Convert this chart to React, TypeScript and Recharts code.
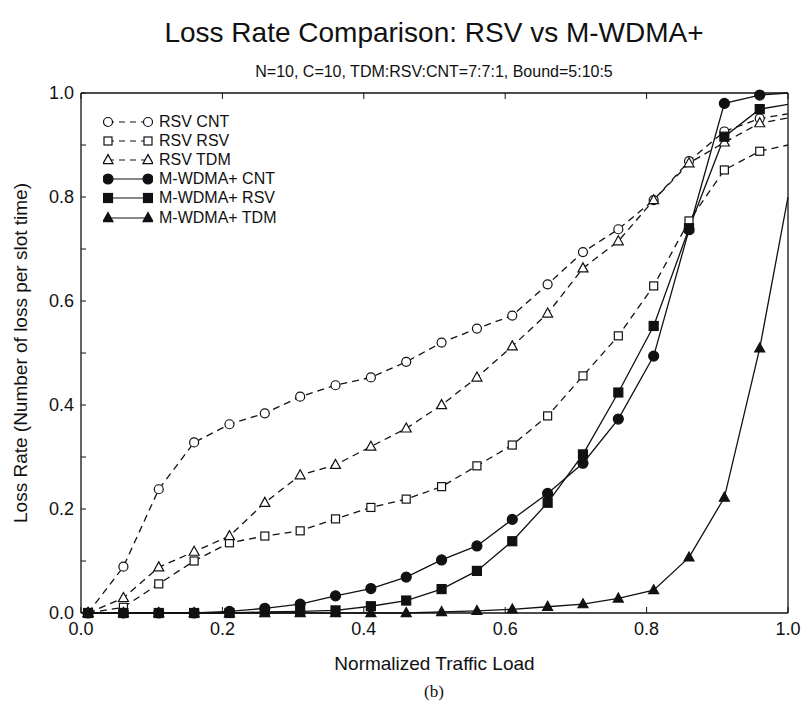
import React from "react";
import { LineChart, Line, XAxis, YAxis } from "recharts";

const loads = [0.01, 0.06, 0.11, 0.16, 0.21, 0.26, 0.31, 0.36, 0.41, 0.46, 0.51, 0.56, 0.61, 0.66, 0.71, 0.76, 0.81, 0.86, 0.91, 0.96, 1.0];

const rsvCnt = [0, 0.089, 0.238, 0.328, 0.363, 0.384, 0.416, 0.438, 0.453, 0.483, 0.52, 0.547, 0.572, 0.632, 0.694, 0.738, 0.794, 0.869, 0.926, 0.951, 0.96];
const rsvRsv = [0, 0.011, 0.056, 0.1, 0.135, 0.148, 0.158, 0.181, 0.203, 0.219, 0.243, 0.283, 0.323, 0.379, 0.456, 0.533, 0.629, 0.754, 0.852, 0.888, 0.9];
const rsvTdm = [0, 0.029, 0.088, 0.118, 0.148, 0.212, 0.265, 0.285, 0.32, 0.355, 0.4, 0.453, 0.513, 0.576, 0.663, 0.715, 0.794, 0.865, 0.905, 0.942, 0.952];
const wdmaCnt = [0, 0, 0, 0, 0.003, 0.009, 0.017, 0.033, 0.047, 0.069, 0.102, 0.129, 0.18, 0.23, 0.288, 0.373, 0.494, 0.737, 0.98, 0.996, 1.0];
const wdmaRsv = [0, 0, 0, 0, 0, 0.002, 0.003, 0.005, 0.013, 0.024, 0.046, 0.081, 0.138, 0.212, 0.305, 0.424, 0.552, 0.74, 0.916, 0.969, 0.978];
const wdmaTdm = [0, 0, 0, 0, 0, 0, 0, 0, 0, 0, 0.002, 0.004, 0.007, 0.012, 0.017, 0.028, 0.044, 0.107, 0.222, 0.509, 0.8];

const xTicks = [0, 0.2, 0.4, 0.6, 0.8, 1.0];
const yTicks = [0, 0.1, 0.2, 0.3, 0.4, 0.5, 0.6, 0.7, 0.8, 0.9, 1.0];

const series = [
  { key: "rsvCnt", name: "RSV CNT", values: rsvCnt, shape: "circle", filled: false, dashed: true },
  { key: "rsvRsv", name: "RSV RSV", values: rsvRsv, shape: "square", filled: false, dashed: true },
  { key: "rsvTdm", name: "RSV TDM", values: rsvTdm, shape: "triangle", filled: false, dashed: true },
  { key: "wdmaCnt", name: "M-WDMA+ CNT", values: wdmaCnt, shape: "circle", filled: true, dashed: false },
  { key: "wdmaRsv", name: "M-WDMA+ RSV", values: wdmaRsv, shape: "square", filled: true, dashed: false },
  { key: "wdmaTdm", name: "M-WDMA+ TDM", values: wdmaTdm, shape: "triangle", filled: true, dashed: false },
];

const data = loads.map((x, i) => {
  const row: Record<string, number> = { x };
  series.forEach((s) => (row[s.key] = s.values[i]));
  return row;
});

const FONT = "'Liberation Sans', Arial, Helvetica, sans-serif";
const INK = "#111";
const DASH = "7 5";

function Marker({ shape, filled, cx, cy }: { shape: string; filled: boolean; cx: number; cy: number }) {
  const fill = filled ? INK : "#fff";
  if (shape === "circle") {
    return <circle cx={cx} cy={cy} r={filled ? 5 : 4.5} fill={fill} stroke={INK} strokeWidth={1.2} />;
  }
  if (shape === "square") {
    const s = filled ? 9 : 8;
    return <rect x={cx - s / 2} y={cy - s / 2} width={s} height={s} fill={fill} stroke={INK} strokeWidth={1.2} />;
  }
  const h = 9;
  const w = 10;
  return (
    <polygon
      points={`${cx},${cy - h * 0.6} ${cx - w / 2},${cy + h * 0.4} ${cx + w / 2},${cy + h * 0.4}`}
      fill={fill}
      stroke={INK}
      strokeWidth={1.2}
    />
  );
}

function makeDot(shape: string, filled: boolean) {
  return (p: any) => {
    if (p.payload.x >= 1 || p.cx == null || p.cy == null) return <g key={p.index} />;
    return (
      <g key={p.index}>
        <Marker shape={shape} filled={filled} cx={p.cx} cy={p.cy} />
      </g>
    );
  };
}

// legend sits inside the plot, top left
function LegendBox() {
  return (
    <div style={{ position: "absolute", top: 112, left: 103, fontFamily: FONT, fontSize: 16, color: INK }}>
      {series.map((s) => (
        <div key={s.key} style={{ display: "flex", alignItems: "center", height: 19.2 }}>
          <svg width={50} height={14} style={{ marginRight: 6 }}>
            <line x1={5} y1={7} x2={45} y2={7} stroke={INK} strokeWidth={1.2} strokeDasharray={s.dashed ? "6 5" : undefined} />
            <Marker shape={s.shape} filled={s.filled} cx={5} cy={7} />
            <Marker shape={s.shape} filled={s.filled} cx={45} cy={7} />
          </svg>
          <span>{s.name}</span>
        </div>
      ))}
    </div>
  );
}

const tickStyle = { fontFamily: FONT, fontSize: 18, fill: INK };

export default function App() {
  return (
    <div style={{ position: "absolute", left: 0, top: 0, width: 802, height: 704, background: "#fff" }}>
      <div style={{ position: "absolute", top: 17, left: 0, width: 868, textAlign: "center", fontFamily: FONT, fontSize: 28, color: INK }}>
        Loss Rate Comparison: RSV vs M-WDMA+
      </div>
      <div style={{ position: "absolute", top: 63, left: 0, width: 868, textAlign: "center", fontFamily: FONT, fontSize: 16, color: INK }}>
        N=10, C=10, TDM:RSV:CNT=7:7:1, Bound=5:10:5
      </div>
      <div style={{ position: "absolute", top: 682, left: 0, width: 868, textAlign: "center", fontFamily: "'Liberation Serif', 'Times New Roman', serif", fontSize: 17, color: INK }}>
        (b)
      </div>
      <LineChart width={802} height={704} data={data} margin={{ top: 83, right: 0, bottom: 0, left: 0 }} style={{ position: "absolute", left: 0, top: 0 }}>
        <XAxis
          dataKey="x"
          type="number"
          domain={[0, 1]}
          ticks={xTicks}
          tickFormatter={(v: number) => v.toFixed(1)}
          height={91}
          tickSize={-6}
          tickMargin={15}
          tick={tickStyle}
          axisLine={{ stroke: INK, strokeWidth: 1.3 }}
          tickLine={{ stroke: INK }}
          label={{ value: "Normalized Traffic Load", position: "insideTop", offset: 44, style: { fontFamily: FONT, fontSize: 19, fill: INK } }}
        />
        <XAxis
          xAxisId="top"
          dataKey="x"
          type="number"
          orientation="top"
          domain={[0, 1]}
          ticks={xTicks}
          tickFormatter={() => ""}
          height={10}
          tickSize={-6}
          axisLine={{ stroke: INK, strokeWidth: 1.3 }}
          tickLine={{ stroke: INK }}
        />
        <YAxis
          type="number"
          domain={[0, 1]}
          ticks={yTicks}
          interval={0}
          tickFormatter={(v: number) => (Math.round(v * 10) % 2 === 0 ? v.toFixed(1) : "")}
          width={81}
          tickSize={-5}
          tickMargin={12}
          tick={tickStyle}
          axisLine={{ stroke: INK, strokeWidth: 1.3 }}
          tickLine={{ stroke: INK }}
          label={{
            value: "Loss Rate (Number of loss per slot time)",
            angle: -90,
            position: "insideLeft",
            offset: 20,
            style: { fontFamily: FONT, fontSize: 19, fill: INK, textAnchor: "middle" },
          }}
        />
        <YAxis
          yAxisId="right"
          type="number"
          orientation="right"
          domain={[0, 1]}
          ticks={yTicks}
          interval={0}
          tickFormatter={() => ""}
          width={14}
          tickSize={-5}
          axisLine={{ stroke: INK, strokeWidth: 1.3 }}
          tickLine={{ stroke: INK }}
        />
        {series.map((s) => (
          <Line
            key={s.key}
            dataKey={s.key}
            name={s.name}
            type="linear"
            stroke={INK}
            strokeWidth={1.3}
            strokeDasharray={s.dashed ? DASH : undefined}
            dot={makeDot(s.shape, s.filled)}
            activeDot={false}
            isAnimationActive={false}
          />
        ))}
      </LineChart>
      <LegendBox />
    </div>
  );
}
